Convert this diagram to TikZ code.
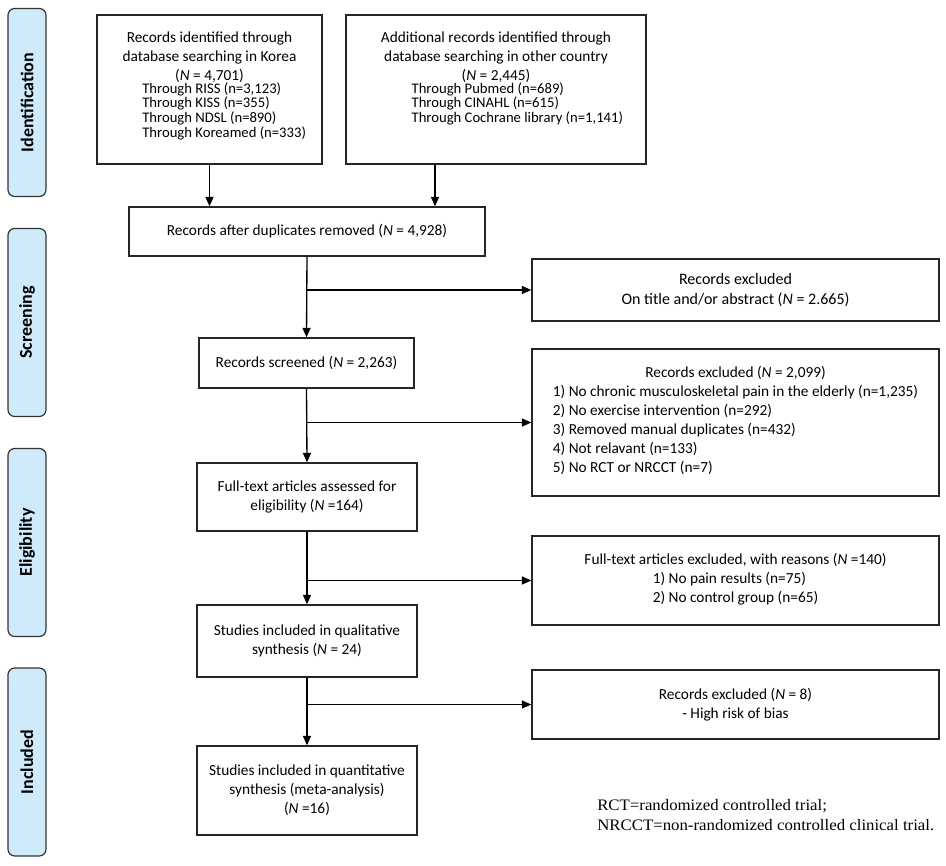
\documentclass[tikz,border=0pt]{standalone}
\usepackage{fontspec}
\setmainfont{Carlito}
\newfontfamily\notefont[FakeStretch=1.05]{Liberation Serif}
\usetikzlibrary{arrows.meta,calc}
\definecolor{sidefill}{RGB}{206,234,251}
\newcommand{\smallfnt}{\fontsize{11}{10}\selectfont}
\begin{document}
\begin{tikzpicture}[x=0.75pt,y=-0.75pt,
  box/.style={draw=black!85, line width=1.1pt, rectangle, inner sep=0pt, align=center,
    font=\fontsize{11.5}{14.25}\selectfont},
  side/.style={draw=black!80, line width=0.9pt, fill=sidefill, rounded corners=5pt,
    minimum width=28.5pt, minimum height=141pt, inner sep=0pt},
  sidetext/.style={rotate=90, font=\fontsize{13.5}{15}\selectfont\bfseries},
  big/.style={font=\fontsize{11.5}{14.25}\selectfont, align=center, inner sep=0pt},
  arr/.style={line width=1pt, -{Triangle[length=7pt,width=6pt]}},
  brarr/.style={line width=0.8pt, -{Triangle[length=7pt,width=6pt]}}
]
\useasboundingbox (0,0) rectangle (946,866);

% side labels
\node[side] (sid) at (27,102.5) {};
\node[sidetext] (sidt) at (sid) {Identification};
\node[side] (sscr) at (27,322.5) {};
\node[sidetext] (sscrt) at (sscr) {Screening};
\node[side] (selg) at (27,542.5) {};
\node[sidetext] (selgt) at (selg) {Eligibility};
\node[side] (sinc) at (27,762) {};
\node[sidetext] (sinct) at (sinc) {Included};

% identification boxes
\node[box, minimum width=168.75pt, minimum height=111.75pt] (korea) at (209.5,89.5) {};
\node[big, anchor=north] (koreatext) at ($(korea.north)+(0,17)$) {Records identified through\\
database searching in Korea\\
(\textit{N} = 4,701)\\[-4.5pt]
\hspace*{22pt}{\smallfnt\begin{tabular}[t]{@{}l@{}}
Through RISS (n=3,123)\\
Through KISS (n=355)\\
Through NDSL (n=890)\\
Through Koreamed (n=333)
\end{tabular}}};

\node[box, minimum width=225pt, minimum height=111.75pt] (other) at (496,89.5) {};
\node[big, anchor=north] (othertext) at ($(other.north)+(0,17)$) {Additional records identified through\\
database searching in other country\\
(\textit{N} = 2,445)\\[-4.5pt]
\hspace*{32pt}{\smallfnt\begin{tabular}[t]{@{}l@{}}
Through Pubmed (n=689)\\
Through CINAHL (n=615)\\
Through Cochrane library (n=1,141)
\end{tabular}}};

% main column
\node[box, minimum width=267pt, minimum height=36.75pt] (dup) at (307,231.5)
  {Records after duplicates removed (\textit{N} = 4,928)};
\node[box, minimum width=161.25pt, minimum height=37.5pt] (scr) at (306.5,363)
  {Records screened (\textit{N} = 2,263)};
\node[box, minimum width=165pt, minimum height=51pt] (full) at (307,497)
  {Full-text articles assessed for\\ eligibility (\textit{N} =164)};
\node[box, minimum width=165pt, minimum height=54pt] (qual) at (307,641)
  {Studies included in qualitative\\ synthesis (\textit{N} = 24)};
\node[box, minimum width=165pt, minimum height=66.75pt] (quant) at (307,790.5)
  {Studies included in quantitative\\ synthesis (meta-analysis)\\ (\textit{N} =16)};

% exclusion boxes
\node[box, minimum width=305.25pt, minimum height=46.5pt, font=\fontsize{12}{14.5}\selectfont] (ex1) at (735.5,290)
  {Records excluded\\ On title and/or abstract (\textit{N} = 2.665)};
\node[box, minimum width=305.25pt, minimum height=110.25pt] (ex2) at (735.5,422.5)
  {Records excluded (\textit{N} = 2,099)\\
  \begin{tabular}[t]{@{}l@{}}
  1) No chronic musculoskeletal pain in the elderly (n=1,235)\\
  2) No exercise intervention (n=292)\\
  3) Removed manual duplicates (n=432)\\
  4) Not relavant (n=133)\\
  5) No RCT or NRCCT (n=7)
  \end{tabular}};
\node[box, minimum width=305.25pt, minimum height=66.75pt] (ex3) at (735.5,580.5)
  {Full-text articles excluded, with reasons (\textit{N} =140)\\
  \begin{tabular}[t]{@{}l@{}}
  1) No pain results (n=75)\\
  2) No control group (n=65)
  \end{tabular}};
\node[box, minimum width=305.25pt, minimum height=51.75pt] (ex4) at (735.5,704.5)
  {Records excluded (\textit{N} = 8)\\ - High risk of bias};

% footnote
\node[anchor=west, align=left, inner sep=0pt, font=\notefont\fontsize{12}{15}\selectfont] (note) at (597,815)
  {RCT=randomized controlled trial;\\ NRCCT=non-randomized controlled clinical trial.};

% connectors
\coordinate (oa) at (435,0);
\draw[arr] (korea.south) -- (korea.south |- dup.north);
\draw[arr] (other.south -| oa) -- (dup.north -| oa);
\draw[arr] (dup.south) -- (scr.north);
\draw[arr] (scr.south) -- (full.north);
\draw[arr] (full.south) -- (qual.north);
\draw[arr] (qual.south) -- (quant.north);
\draw[brarr] (dup.south |- ex1.west) -- (ex1.west);
\draw[brarr] (scr.south |- ex2.west) -- (ex2.west);
\draw[brarr] (full.south |- ex3.west) -- (ex3.west);
\draw[brarr] (qual.south |- ex4.west) -- (ex4.west);
\end{tikzpicture}
\end{document}
